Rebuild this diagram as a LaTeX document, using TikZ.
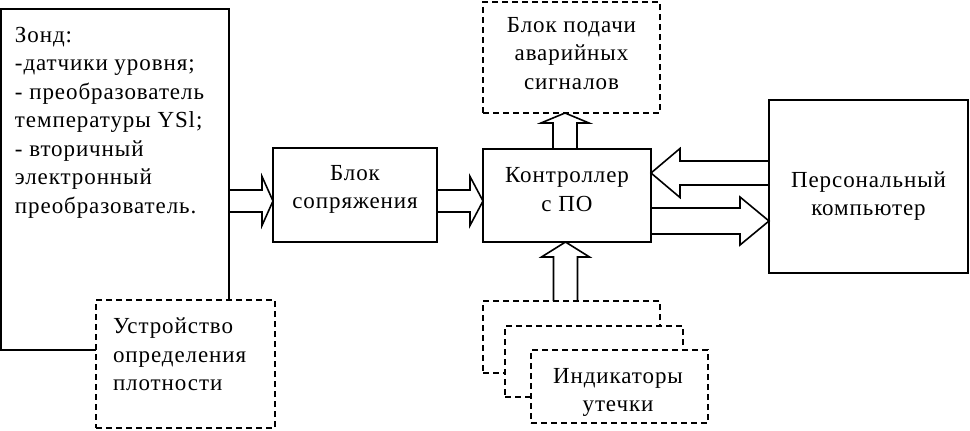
\documentclass[tikz,border=0pt]{standalone}
\usepackage{fontspec}
\setmainfont{Liberation Serif}[LetterSpace=4]
\usetikzlibrary{calc}
\begin{document}
\begin{tikzpicture}[x=1pt,y=-1pt,
  every node/.style={font=\fontsize{23}{28.5}\selectfont, inner sep=0pt, outer sep=0pt},
  box/.style={draw, line width=1.6pt, fill=white},
  dbox/.style={draw, line width=1.6pt, dash pattern=on 6pt off 4pt, fill=white},
  txt/.style={align=center},
  fat/.style n args={3}{line width=1.6pt, to path={
    let \p1=(\tikztostart), \p2=(\tikztotarget), \n1={atan2(\y2-\y1,\x2-\x1)} in
    ($(\p1)+(\n1+90:#1)$) -- ($(\p2)+(\n1+180:#3)+(\n1+90:#1)$)
    -- ($(\p2)+(\n1+180:#3)+(\n1+90:#2)$) -- (\p2)
    -- ($(\p2)+(\n1+180:#3)+(\n1-90:#2)$) -- ($(\p2)+(\n1+180:#3)+(\n1-90:#1)$)
    -- ($(\p1)+(\n1-90:#1)$)}}
]
\useasboundingbox (0,0) rectangle (970,431);

% boxes
\node[box, minimum width=228pt, minimum height=341pt] (zond) at (115,179.5) {};
\node[anchor=north west, align=left] (zondtxt) at (15,27)
  {Зонд:\\-датчики уровня;\\- преобразователь\\температуры YSl;\\- вторичный\\электронный\\преобразователь.};
\node[dbox, minimum width=179pt, minimum height=128pt] (dens) at (185.5,364) {};
\node[anchor=north west, align=left] (denstxt) at (113,318) {Устройство\\определения\\плотности};

\node[box, minimum width=164pt, minimum height=94pt] (blk) at (355,195) {};
\node[txt] (blktxt) at (355,189.5) {Блок\\сопряжения};

\node[box, minimum width=168pt, minimum height=93pt] (ctrl) at (567,195.5) {};
\node[txt] (ctrltxt) at (567,189.5) {Контроллер\\с ПО};

\node[dbox, minimum width=177pt, minimum height=111pt] (alarm) at (571.5,57.5) {};
\node[txt] (alarmtxt) at (571.5,53.5) {Блок подачи\\аварийных\\сигналов};

\node[box, minimum width=199pt, minimum height=173pt] (pc) at (868.5,186.5) {};
\node[txt] (pctxt) at (868.5,196) {Персональный\\компьютер};

\node[dbox, minimum width=177pt, minimum height=72pt] (ind1) at (571.5,337) {};
\node[dbox, minimum width=178pt, minimum height=71pt] (ind2) at (594,361.5) {};
\node[dbox, minimum width=177pt, minimum height=73pt] (ind3) at (619.5,386.5) {};
\node[txt] (indtxt) at (618,392.5) {Индикаторы\\утечки};

% arrow end points
\coordinate (a1e) at ($(blk.west)+(0,6)$);
\coordinate (a2e) at ($(ctrl.west)+(0,5.5)$);
\coordinate (a3e) at ($(ctrl.east)+(0,-22.5)$);
\coordinate (a4e) at ($(pc.west)+(0,34.5)$);
\coordinate (a5s) at ($(ctrl.north)+(-2,0)$);
\coordinate (a6e) at ($(ctrl.south)+(-1.5,0)$);

% fat arrows
\draw[fat={11pt}{24.5pt}{11pt}] (zond.east |- a1e) to (a1e);
\draw[fat={11pt}{24.5pt}{13pt}] (blk.east |- a2e) to (a2e);
\draw[fat={12pt}{24.5pt}{29pt}] (pc.west |- a3e) to (a3e);
\draw[fat={13pt}{24pt}{29pt}] (ctrl.east |- a4e) to (a4e);
\draw[fat={12pt}{24pt}{10pt}] (a5s) to (a5s |- alarm.south);
\draw[fat={12pt}{24pt}{15pt}] (a6e |- ind1.north) to (a6e);
\end{tikzpicture}
\end{document}
